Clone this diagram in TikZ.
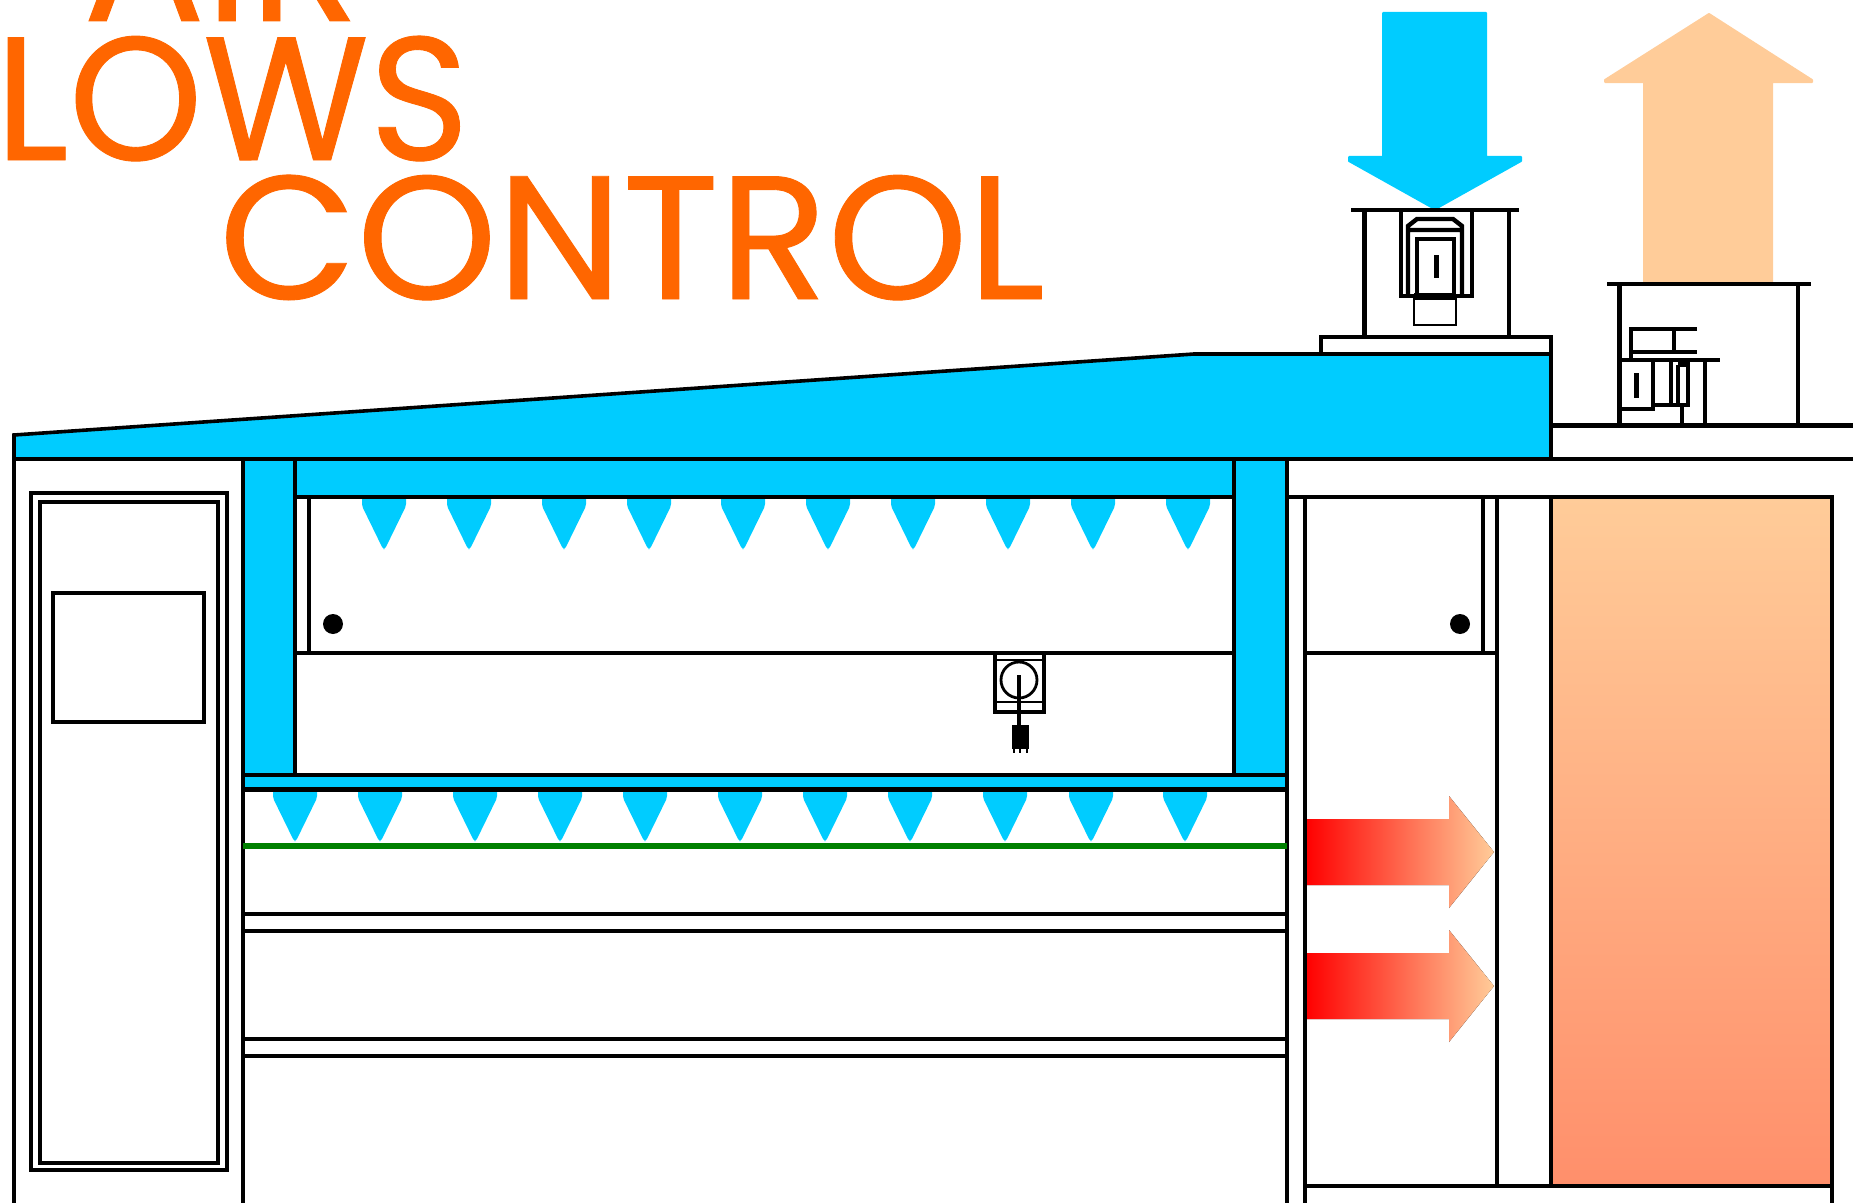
\documentclass[tikz,border=0pt]{standalone}
\usepackage{fontspec}
\setmainfont[FakeBold=.5]{Poppins}
\usetikzlibrary{calc}
\definecolor{skyblue}{HTML}{00CCFF}
\definecolor{peach}{HTML}{FFCC99}
\definecolor{salmon}{HTML}{FF8F6B}
\definecolor{titleorange}{HTML}{FF6600}
\newcommand{\BlueDrop}[2]{\fill[skyblue,rounded corners=.02cm](#1-22,#2)--(#1+22,#2)--(#1+22,#2+9)--(#1+1,#2+52)--(#1-1,#2+52)--(#1-22,#2+9)--cycle;}
\newcommand{\HeatArrow}[1]{\fill[left color=red,right color=peach](1306,#1-33)--(1449,#1-33)--(1449,#1-56)--(1494,#1)--(1449,#1+56)--(1449,#1+33)--(1306,#1+33)--cycle;}
\tikzset{wall/.style={line width=.044cm},thinwall/.style={line width=.036cm},fineline/.style={line width=.018cm},plume/.style={line width=.02cm,line join=round},title/.style={text=titleorange,anchor=base west,inner sep=0,outer sep=0,font=\fontsize{50}{50}\selectfont}}

\begin{document}
\begin{tikzpicture}[x=.01cm,y=-.01cm]
\useasboundingbox(0,0)rectangle(1853,1203);
\clip(0,0)rectangle(1853,1203);
% title
\node[title]  (air) at (83,21){\scalebox{1.03}[1]{AIR}};
\node[title]  (lows) at (-5,160){\scalebox{.97}[1]{LOWS}};
\node[title]  (control) at (219,299){\scalebox{1.015}[1]{CONTROL}};
% blue and warm areas
\fill[skyblue](14,435)--(14,459)--(1551,459)--(1551,354)--(1194,354)--cycle;
\fill[skyblue](243,459)rectangle(295,775)(295,459)rectangle(1234,497)(1234,459)rectangle(1287,775)(243,775)rectangle(1287,789);
\shade[top color=peach,bottom color=salmon](1551,497)rectangle(1832,1186);
\HeatArrow{852}\HeatArrow{986}
\BlueDrop{384}{497}\BlueDrop{469}{497}\BlueDrop{564}{497}\BlueDrop{649}{497}\BlueDrop{743}{497}\BlueDrop{828}{497}\BlueDrop{913}{497}\BlueDrop{1008}{497}\BlueDrop{1093}{497}\BlueDrop{1188}{497}
\BlueDrop{295}{789}\BlueDrop{380}{789}\BlueDrop{475}{789}\BlueDrop{560}{789}\BlueDrop{645}{789}\BlueDrop{740}{789}\BlueDrop{825}{789}\BlueDrop{910}{789}\BlueDrop{1005}{789}\BlueDrop{1091}{789}\BlueDrop{1185}{789}
% big arrows
\filldraw[skyblue,plume](1383,13)--(1486,13)--(1486,157)--(1521,157)--(1521,161)--(1437,208)--(1433,208)--(1349,161)--(1349,157)--(1383,157)--cycle;
\filldraw[peach,plume](1709,14)--(1812,80)--(1812,82)--(1772,82)--(1772,282)--(1644,282)--(1644,82)--(1605,82)--(1605,80)--cycle;
% building
\draw[thinwall](14,1203)--(14,435)--(1194,354)--(1551,354);
\draw[wall](14,459)--(1853,459);\draw[wall](1551,425.5)--(1853,425.5);
\draw[wall](1551,335)--(1551,459)(1551,497)--(1551,1186);
\draw[thinwall](1321,354)--(1321,337)--(1553,337);
\draw[wall](295,459)--(295,775)(1234,459)--(1234,775);
\draw[wall](243,459)--(243,1203)(1287,459)--(1287,1203);
\draw[wall](295,497)--(1234,497)(1285,497)--(1832,497)--(1832,1203);
\draw[thinwall](1305,497)--(1305,1203)(1497,497)--(1497,1186)(1305,1186)--(1832,1186);
\draw[wall](309,497)--(309,653)(1483,497)--(1483,653);
\draw[thinwall](295,653)--(1234,653)(1305,653)--(1497,653);
\draw[wall](243,775)--(1287,775);\draw[line width=.05cm](243,789)--(1287,789);
\draw[green!50!black,line width=.065cm](243,846)--(1287,846);
\draw[thinwall](243,914)--(1287,914)(243,931)--(1287,931)(243,1039)--(1287,1039)(243,1056)--(1287,1056);
\fill(333,624)circle[radius=10];\fill(1460,624)circle[radius=10];
% door
\draw[thinwall](31,493)rectangle(227,1170)(40,502)rectangle(218,1163);\draw[wall](53,593)rectangle(204,722);
% actuator
\draw[wall](995,653)--(995,712)--(1044,712)--(1044,653);\draw[fineline](995,660)--(1044,660)(995,702)--(1044,702);\draw[line width=.028cm](1019,680)circle[radius=18];
\draw[line width=.045cm](1019,675)--(1019,726);\fill(1012,725)rectangle(1029,749);\draw[line width=.018cm](1014,749)--(1014,753)(1020,749)--(1020,753)(1027,749)--(1027,753);
% supply unit
\draw[wall](1351,210)--(1519,210)(1364.5,210)--(1364.5,337)(1509,210)--(1509,337);
\draw[wall](1401,210)--(1401,296)--(1472,296)--(1472,210);
\draw[wall](1408,296)--(1408,226)--(1417,219)--(1453,219)--(1462,226)--(1462,296)(1408,230)--(1462,230);
\draw[wall](1417,296)--(1417,239)--(1454,239)--(1454,296);
\fill(1414,293)rectangle(1456,300);\fill(1433.5,255)rectangle(1438.5,278);\draw[fineline](1414,299)rectangle(1456,325);
% exhaust unit
\draw[wall](1607,284)--(1811,284)(1619.5,284)--(1619.5,425.5)(1798,284)--(1798,425.5);
\draw[wall](1697,329)--(1631,329)--(1631,360)(1631,352)--(1697,352)(1674,329)--(1674,352)(1619,360)--(1720,360);
\draw[wall](1619,409)--(1653,409)--(1653,360)(1653,405)--(1688,405)--(1688,362)(1671,360)--(1671,405)(1678,365)--(1678,405)(1682,405)--(1682,425)(1705,360)--(1705,425);
\fill(1678,360)rectangle(1688,367);\fill(1634,373)rectangle(1639,398);
\end{tikzpicture}
\end{document}
